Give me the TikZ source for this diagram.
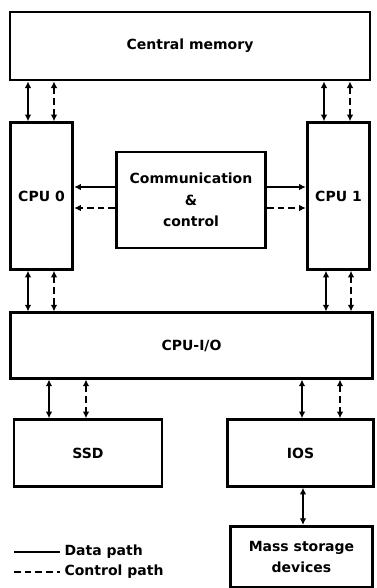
\documentclass[tikz,border=0pt]{standalone}
\usepackage{fontspec}
\setmainfont{DejaVu Sans}
\usepackage{tikz}
\usetikzlibrary{arrows.meta,positioning}

\begin{document}
\begin{tikzpicture}[x=0.75pt,y=-0.75pt,
unit/.style={draw, line width=2.1pt, align=center, font=\bfseries\fontsize{10.5}{16}\selectfont, inner sep=0pt},
datapath/.style={line width=1.4pt, {Latex[length=5pt,width=5pt]}-{Latex[length=5pt,width=5pt]}},
ctrlpath/.style={datapath, dash pattern=on 5pt off 3pt},
legendtext/.style={anchor=west, font=\bfseries\fontsize{10.5}{12}\selectfont, inner sep=1pt}
]
\useasboundingbox (0,0) rectangle (376,588);
\node[unit, minimum width=270pt, minimum height=51pt] (mem) at (190,46) {Central memory};
\node[unit, minimum width=47pt, minimum height=110pt] (cpu0) at (41.5,196) {CPU 0};
\node[unit, minimum width=47pt, minimum height=110pt] (cpu1) at (338.5,196) {CPU 1};
\node[unit, minimum width=112pt, minimum height=72pt] (comm) at (191,200) {Communication\\\&\\control};
\node[unit, minimum width=272pt, minimum height=49pt] (cpuio) at (191.5,345.5) {CPU-I/O};
\node[unit, minimum width=111pt, minimum height=50pt] (ssd) at (88,453) {SSD};
\node[unit, minimum width=109pt, minimum height=50pt] (ios) at (300.5,453) {IOS};
\node[unit, minimum width=107pt, minimum height=46pt] (mass) at (301.5,557) {Mass storage\\devices};
\draw[datapath] (mem.south -| 28,0) -- (cpu0.north -| 28,0);
\draw[ctrlpath] (mem.south -| 54,0) -- (cpu0.north -| 54,0);
\draw[datapath] (mem.south -| 324,0) -- (cpu1.north -| 324,0);
\draw[ctrlpath] (mem.south -| 350,0) -- (cpu1.north -| 350,0);
\draw[datapath, -{Latex[length=5pt,width=5pt]}] (comm.west |- 0,187) -- (cpu0.east |- 0,187);
\draw[ctrlpath, -{Latex[length=5pt,width=5pt]}] (comm.west |- 0,208) -- (cpu0.east |- 0,208);
\draw[datapath, -{Latex[length=5pt,width=5pt]}] (comm.east |- 0,187) -- (cpu1.west |- 0,187);
\draw[ctrlpath, -{Latex[length=5pt,width=5pt]}] (comm.east |- 0,208) -- (cpu1.west |- 0,208);
\draw[datapath] (cpu0.south -| 28,0) -- (cpuio.north -| 28,0);
\draw[ctrlpath] (cpu0.south -| 54,0) -- (cpuio.north -| 54,0);
\draw[datapath] (cpu1.south -| 326,0) -- (cpuio.north -| 326,0);
\draw[ctrlpath] (cpu1.south -| 351,0) -- (cpuio.north -| 351,0);
\draw[datapath] (cpuio.south -| 49,0) -- (ssd.north -| 49,0);
\draw[ctrlpath] (cpuio.south -| 86,0) -- (ssd.north -| 86,0);
\draw[datapath] (cpuio.south -| 302,0) -- (ios.north -| 302,0);
\draw[ctrlpath] (cpuio.south -| 340,0) -- (ios.north -| 340,0);
\draw[datapath] (ios.south -| 303,0) -- (mass.north -| 303,0);
\node[legendtext] (datalbl) at (63,552) {Data path};
\node[legendtext] (ctrllbl) at (63,572) {Control path};
\coordinate (datastart) at (14,552);
\coordinate (ctrlstart) at (14,572);
\draw[line width=1.4pt] (datastart) -- ([xshift=-2pt]datalbl.west);
\draw[line width=1.4pt, dash pattern=on 5pt off 3pt] (ctrlstart) -- ([xshift=-2pt]ctrllbl.west);
\end{tikzpicture}
\end{document}
